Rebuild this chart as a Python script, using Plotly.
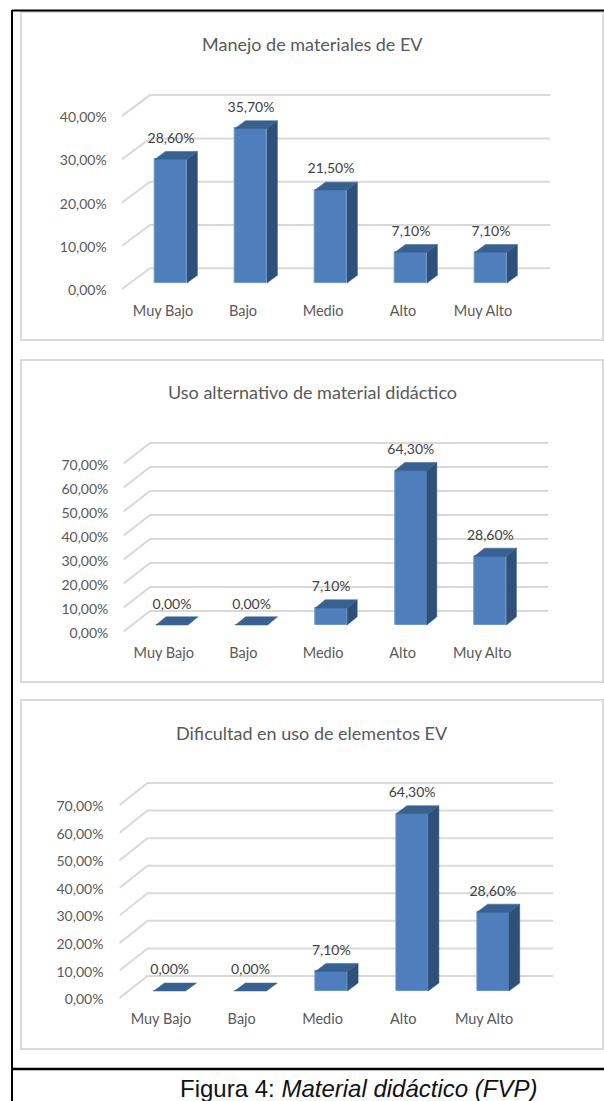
import plotly.graph_objects as go

WIDTH = 604
HEIGHT = 1101

categories = ['Muy Bajo', 'Bajo', 'Medio', 'Alto', 'Muy Alto']

titles = ['Manejo de materiales de EV',
          'Uso alternativo de material didáctico',
          'Dificultad en uso de elementos EV']

values_manejo = [28.6, 35.7, 21.5, 7.1, 7.1]
values_uso = [0.0, 0.0, 7.1, 64.3, 28.6]
values_dificultad = [0.0, 0.0, 7.1, 64.3, 28.6]

ticks_manejo = [0, 10, 20, 30, 40]
ticks_uso = [0, 10, 20, 30, 40, 50, 60, 70]
ticks_dificultad = [0, 10, 20, 30, 40, 50, 60, 70]

caption = 'Figura 4: <i>Material didáctico (FVP)</i>'

FRONT = '#4e7ebb'
EDGE = '#6c96cc'
SIDE = '#2f5078'
TOP = '#38618f'
GRID = '#d9d9d9'
TEXT = '#595959'
LABEL = '#404040'
FONT = 'Lato'

# pixel geometry of each panel, measured on the page
panels = [
    dict(values=values_manejo, ticks=ticks_manejo, title_y=44, title_x=312.5,
         box=(21, 12, 603, 340), first=171, step=80, base=283, scale=4.33,
         depth_x=10.4, depth_y=7.7, wall_x=150, front_x=121.7, right=550, wall_dy=14.7, front_dy=6.3,
         cat_y=310, label_shift=8, standoff=14),
    dict(values=values_uso, ticks=ticks_uso, title_y=392, title_x=312.5,
         box=(21, 360, 603, 682), first=172, step=79.6, base=625, scale=2.4,
         depth_x=10, depth_y=8.2, wall_x=150, front_x=123.3, right=548.5, wall_dy=14, front_dy=6.7,
         cat_y=652, label_shift=8.2, standoff=14),
    dict(values=values_dificultad, ticks=ticks_dificultad, title_y=733, title_x=312.5,
         box=(21, 700, 603, 1049), first=169.7, step=80.8, base=991, scale=2.757,
         depth_x=10.8, depth_y=8, wall_x=147.5, front_x=119.4, right=553, wall_dy=15, front_dy=7.3,
         cat_y=1018.3, label_shift=8.8, standoff=15),
]


def fmt(v):
    return f'{v:.2f}'.replace('.', ',') + '%'


def paper_x(px):
    return px / WIDTH


def paper_y(px):
    return 1 - px / HEIGHT


fig = go.Figure()

for n, p in enumerate(panels, start=1):
    xname = 'x' if n == 1 else f'x{n}'
    yname = 'y' if n == 1 else f'y{n}'
    xkey = 'xaxis' if n == 1 else f'xaxis{n}'
    ykey = 'yaxis' if n == 1 else f'yaxis{n}'

    # convert pixel offsets to data units
    dx = p['depth_x'] / p['step']
    dy = p['depth_y'] / p['scale']
    half = 16 / p['step']
    idx = list(range(len(categories)))

    bottom_px = p['cat_y'] - 10
    top_px = p['base'] - (max(p['ticks']) * p['scale']) - p['wall_dy'] - 6
    x_lo = (p['front_x'] - p['first']) / p['step']
    x_hi = (p['right'] - p['first']) / p['step']
    y_lo = (p['base'] - bottom_px) / p['scale']
    y_hi = (p['base'] - top_px) / p['scale']
    x_wall = (p['wall_x'] - p['first']) / p['step']
    wall_off = p['wall_dy'] / p['scale']
    front_off = p['front_dy'] / p['scale']

    # back wall grid, below the bars
    for t in p['ticks']:
        fig.add_shape(type='path', xref=xname, yref=yname, layer='below',
                      path=f'M {x_lo} {t - front_off} L {x_wall} {t + wall_off} L {x_hi} {t + wall_off}',
                      line=dict(color=GRID, width=2))

    fig.add_trace(go.Bar(x=idx, y=p['values'], width=2 * half, xaxis=xname, yaxis=yname,
                         marker=dict(color=FRONT, line=dict(color=EDGE, width=1))))

    for i, v in zip(idx, p['values']):
        if v > 0:
            fig.add_trace(go.Scatter(x=[i + half, i + half + dx, i + half + dx, i + half, i + half],
                                     y=[0, dy, v + dy, v, 0],
                                     mode='lines', fill='toself', fillcolor=SIDE,
                                     line=dict(color=SIDE, width=0.5), xaxis=xname, yaxis=yname))
        fig.add_trace(go.Scatter(x=[i - half, i - half + dx, i + half + dx, i + half, i - half],
                                 y=[v, v + dy, v + dy, v, v],
                                 mode='lines', fill='toself', fillcolor=TOP,
                                 line=dict(color=TOP, width=0.5), xaxis=xname, yaxis=yname))

    fig.add_trace(go.Scatter(x=idx, y=[v + 20 / p['scale'] for v in p['values']],
                             text=[fmt(v) for v in p['values']], mode='text',
                             textposition='middle center',
                             textfont=dict(family=FONT, size=14, color=LABEL),
                             xaxis=xname, yaxis=yname))

    fig.update_layout({
        xkey: dict(domain=[paper_x(p['front_x']), paper_x(p['right'])], range=[x_lo, x_hi],
                   anchor=yname, tickmode='array', tickvals=[i - p['label_shift'] / p['step'] for i in idx],
                   ticktext=categories, showgrid=False, zeroline=False, showline=False, ticks='',
                   tickfont=dict(family=FONT, size=14.5, color=TEXT)),
        ykey: dict(domain=[paper_y(bottom_px), paper_y(top_px)], range=[y_lo, y_hi],
                   anchor=xname, tickmode='array', tickvals=[t - front_off - 1 / p['scale'] for t in p['ticks']],
                   ticktext=[fmt(t) for t in p['ticks']], showgrid=False, zeroline=False, showline=False,
                   ticks='', ticklabelstandoff=p['standoff'],
                   tickfont=dict(family=FONT, size=14, color=TEXT)),
    })

    x0, y0, x1, y1 = p['box']
    fig.add_shape(type='rect', xref='paper', yref='paper', layer='below',
                  x0=paper_x(x0), x1=paper_x(x1), y0=paper_y(y0), y1=paper_y(y1),
                  line=dict(color=GRID, width=2), fillcolor='white')
    fig.add_annotation(text=titles[n - 1], xref='paper', yref='paper',
                       x=paper_x(p['title_x']), y=paper_y(p['title_y']), showarrow=False,
                       xanchor='center', yanchor='middle',
                       font=dict(family=FONT, size=18, color=TEXT))

# document frame lines
for x0, y0, x1, y1, w in [(12, 10.5, 604, 10.5, 2), (12, 10, 12, 1101, 2), (12, 1069, 604, 1069, 2.5)]:
    fig.add_shape(type='line', xref='paper', yref='paper',
                  x0=paper_x(x0), x1=paper_x(x1), y0=paper_y(y0), y1=paper_y(y1),
                  line=dict(color='black', width=w))

fig.add_annotation(text=caption, xref='paper', yref='paper', x=paper_x(178), y=paper_y(1088),
                   showarrow=False, xanchor='left', yanchor='middle',
                   font=dict(family='Liberation Sans', size=24, color='#111111'))

fig.update_layout(width=WIDTH, height=HEIGHT, margin=dict(l=0, r=0, t=0, b=0),
                  paper_bgcolor='white', plot_bgcolor='rgba(0,0,0,0)',
                  showlegend=False, bargap=0)

fig.write_html('out.html', config=dict(displayModeBar=False),
               post_script="document.body.style.margin='0';")
